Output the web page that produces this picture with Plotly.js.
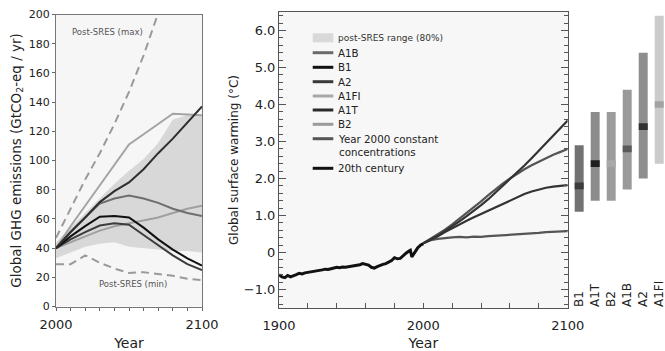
<!DOCTYPE html>
<html><head><meta charset="utf-8">
<script src="https://cdn.plot.ly/plotly-3.0.1.min.js"></script>
<style>html,body{margin:0;padding:0;background:#fff}#chart{width:665px;height:351px}</style>
</head><body><div id="chart"></div>
<script>
// ---------- Left panel: GHG emissions (GtCO2-eq / yr) ----------
const emisYears = [2000,2010,2020,2030,2040,2050,2060,2070,2080,2090,2100];
const emisA1B  = [40,51,61,70.5,74,76,74,71,67,64,62];
const emisA1T  = [40,46,51,55.5,57,56,49,42,35,29,25];
const emisA1FI = [40,55,69,83,97,111,118,125,132,131.5,131];
const emisA2   = [40,51,61,71.5,79,85,94,105,115,126,137];
const emisB1   = [40,48,55,61.5,62,61,54,46,39,33,28];
const emisB2   = [40,44,48,52,55,57,59,61,64,67,69];
const rangeLow  = [33,37,41,43,44,41,40,39,38,38,37];
const rangeHigh = [44,54,64,74,84,93,101,112,128,131,131];
const postMinYears = [2000,2010,2020,2030,2040,2050,2060,2070,2080,2090,2100];
const postMin      = [29,29,35,30,26,23,23.5,22.5,21,19,18];
const postMaxYears = [2000,2010,2020,2030,2040,2050,2060,2070];
const postMax      = [47,67,87,105,125,147,172,201];

// ---------- Middle panel: global surface warming (°C) ----------
const histYears = [1900,1902,1904,1906,1908,1910,1912,1914,1916,1918,1920,1922,1924,1926,1928,1930,1932,1934,1936,1938,1940,1942,1944,1946,1948,1950,1952,1954,1956,1958,1960,1962,1964,1966,1968,1970,1972,1974,1976,1978,1980,1982,1984,1986,1988,1990,1991,1992,1993,1994,1996,1998,2000];
const histTemp  = [-0.60,-0.66,-0.68,-0.62,-0.66,-0.64,-0.60,-0.56,-0.58,-0.55,-0.54,-0.52,-0.51,-0.49,-0.50,-0.47,-0.45,-0.46,-0.44,-0.41,-0.40,-0.41,-0.39,-0.40,-0.39,-0.38,-0.36,-0.36,-0.33,-0.30,-0.31,-0.34,-0.40,-0.42,-0.38,-0.34,-0.32,-0.30,-0.27,-0.22,-0.14,-0.17,-0.16,-0.08,-0.02,0.04,0.06,-0.12,-0.06,0.02,0.12,0.20,0.24];
const projYears = [2000,2005,2010,2015,2020,2025,2030,2035,2040,2045,2050,2055,2060,2065,2070,2075,2080,2085,2090,2095,2100];
const projA2    = [0.25,0.35,0.45,0.58,0.70,0.84,0.98,1.12,1.28,1.44,1.62,1.80,1.97,2.15,2.35,2.55,2.75,2.95,3.15,3.36,3.57];
const projA1B   = [0.25,0.37,0.49,0.62,0.76,0.91,1.06,1.22,1.38,1.55,1.71,1.86,2.00,2.13,2.25,2.36,2.46,2.55,2.64,2.72,2.80];
const projB1    = [0.25,0.34,0.44,0.55,0.66,0.76,0.86,0.95,1.04,1.14,1.24,1.33,1.41,1.50,1.58,1.65,1.71,1.75,1.78,1.80,1.82];
const projConst = [0.25,0.33,0.37,0.40,0.41,0.42,0.41,0.43,0.42,0.44,0.45,0.46,0.47,0.48,0.50,0.52,0.53,0.55,0.56,0.57,0.58];

// ---------- Right bars: likely ranges & best estimates ----------
const barLabels = ['B1','A1T','B2','A1B','A2','A1FI'];
const barLow    = [1.1,1.4,1.4,1.7,2.0,2.4];
const barHigh   = [2.9,3.8,3.8,4.4,5.4,6.4];
const barBest   = [1.8,2.4,2.4,2.8,3.4,4.0];
const barColors  = ['#727272','#8c8c8c','#9c9c9c','#9a9a9a','#8e8e8e','#cbcbcb'];
const bestColors = ['#3c3c3c','#1e1e1e','#a9a9a9','#5a5a5a','#333333','#a2a2a2'];

// ---------- Legend ----------
const legendNames  = ['A1B','B1','A2','A1FI','A1T','B2','Year 2000 constant<br>concentrations','20th century'];
const legendColors = ['#6a6a6a','#111111','#3a3a3a','#a8a8a8','#2a2a2a','#9a9a9a','#555555','#111111'];

const W = 665, H = 351;
const px = x => x / W, py = y => 1 - y / H;
const FONT = 'DejaVu Sans, sans-serif';

const traces = [
  // left panel
  {x: emisYears, y: rangeLow, xaxis:'x', yaxis:'y', mode:'lines', line:{width:0}, hoverinfo:'skip', showlegend:false},
  {x: emisYears, y: rangeHigh, xaxis:'x', yaxis:'y', mode:'lines', line:{width:0}, fill:'tonexty', fillcolor:'#d8d8d8', showlegend:false},
  {x: postMinYears, y: postMin, xaxis:'x', yaxis:'y', mode:'lines', line:{color:'#9a9a9a', width:2, dash:'8px,5px'}, showlegend:false},
  {x: postMaxYears, y: postMax, xaxis:'x', yaxis:'y', mode:'lines', line:{color:'#9a9a9a', width:2, dash:'8px,5px'}, showlegend:false},
  {x: emisYears, y: emisB2, xaxis:'x', yaxis:'y', mode:'lines', line:{color:'#a0a0a0', width:2}, showlegend:false},
  {x: emisYears, y: emisA1FI, xaxis:'x', yaxis:'y', mode:'lines', line:{color:'#a4a4a4', width:2}, showlegend:false},
  {x: emisYears, y: emisA1B, xaxis:'x', yaxis:'y', mode:'lines', line:{color:'#6e6e6e', width:2}, showlegend:false},
  {x: emisYears, y: emisA1T, xaxis:'x', yaxis:'y', mode:'lines', line:{color:'#3c3c3c', width:2}, showlegend:false},
  {x: emisYears, y: emisB1, xaxis:'x', yaxis:'y', mode:'lines', line:{color:'#111111', width:2}, showlegend:false},
  {x: emisYears, y: emisA2, xaxis:'x', yaxis:'y', mode:'lines', line:{color:'#2e2e2e', width:2}, showlegend:false},
  // middle panel
  {x: projYears, y: projConst, xaxis:'x2', yaxis:'y2', mode:'lines', line:{color:'#555555', width:2.2}, showlegend:false},
  {x: projYears, y: projB1, xaxis:'x2', yaxis:'y2', mode:'lines', line:{color:'#333333', width:2.2}, showlegend:false},
  {x: projYears, y: projA1B, xaxis:'x2', yaxis:'y2', mode:'lines', line:{color:'#555555', width:2.2}, showlegend:false},
  {x: projYears, y: projA2, xaxis:'x2', yaxis:'y2', mode:'lines', line:{color:'#333333', width:2.2}, showlegend:false},
  {x: histYears, y: histTemp, xaxis:'x2', yaxis:'y2', mode:'lines', line:{color:'#111111', width:3}, showlegend:false},
  // bars
  {type:'bar', x: barLabels, y: barHigh.map((h,i)=>h-barLow[i]), base: barLow, xaxis:'x3', yaxis:'y2',
   width:0.56, marker:{color:barColors, line:{width:0}}, showlegend:false},
  {type:'bar', x: barLabels, y: barBest.map(()=>0.18), base: barBest.map(b=>b-0.09), xaxis:'x3', yaxis:'y2',
   width:0.56, marker:{color:bestColors, line:{width:0}}, showlegend:false}
];

const shapes = [
  {type:'rect', xref:'x domain', yref:'y domain', x0:0, x1:1, y0:0, y1:1, fillcolor:'#f6f6f6', line:{width:0}, layer:'below'},
  {type:'rect', xref:'x2 domain', yref:'y2 domain', x0:0, x1:1, y0:0, y1:1, fillcolor:'#f7f7f7', line:{width:0}, layer:'below'},
  {type:'rect', xref:'paper', yref:'paper', x0:px(312.7), x1:px(333.3), y0:py(42.3), y1:py(33.3), fillcolor:'#d9d9d9', line:{width:0}}
];
const annotations = [
  {xref:'paper', yref:'paper', x:px(335.5), y:py(38), xanchor:'left', yanchor:'middle', showarrow:false,
   text:'post-SRES range (80%)', font:{family:FONT, size:9, color:'#333'}},
  {xref:'x', yref:'y', x:2035.3, y:188, showarrow:false, text:'Post-SRES (max)', font:{family:FONT, size:8.5, color:'#555'}},
  {xref:'x', yref:'y', x:2052.7, y:15.2, showarrow:false, text:'Post-SRES (min)', font:{family:FONT, size:8.5, color:'#555'}}
];
const rowY = [52.7, 67.3, 81.7, 96, 110, 124.3, 138.7, 168.3];
legendNames.forEach((name, i) => {
  shapes.push({type:'line', xref:'paper', yref:'paper', x0:px(312.7), x1:px(333.3), y0:py(rowY[i]), y1:py(rowY[i]),
    line:{color:legendColors[i], width:3}});
  const multi = name.indexOf('<br>') >= 0;
  annotations.push({xref:'paper', yref:'paper', x:px(335.5), y:py(multi ? rowY[i] + 7 : rowY[i]),
    xanchor:'left', yanchor:'middle', align:'left', showarrow:false, text:name,
    font:{family:FONT, size:10.3, color:'#222'}});
});

const layout = {
  width: W, height: H,
  margin: {l:0, r:0, t:0, b:0},
  paper_bgcolor: '#ffffff', plot_bgcolor: 'rgba(0,0,0,0)',
  font: {family: FONT, color: '#222'},
  showlegend: false,
  barmode: 'overlay',
  xaxis: {domain:[px(56), px(202)], range:[2000,2100], anchor:'y', tickvals:[2000,2100],
    ticks:'outside', ticklen:3, tickcolor:'#666', minor:{tick0:2000, dtick:10, ticks:'outside', ticklen:3, tickcolor:'#666'},
    showline:true, linecolor:'#777', linewidth:1, mirror:true, showgrid:false, zeroline:false,
    tickfont:{size:13, color:'#222'}, ticklabelstandoff:3,
    title:{text:'Year', font:{size:14, color:'#222'}, standoff:8}},
  yaxis: {domain:[py(306.5), py(14.5)], range:[0,200], anchor:'x', dtick:20, tick0:0,
    ticks:'outside', ticklen:3, tickcolor:'#666',
    showline:true, linecolor:'#777', linewidth:1, mirror:true, showgrid:false, zeroline:false,
    tickfont:{size:11, color:'#222'},
    title:{text:'Global GHG emissions (GtCO<sub>2</sub>-eq / yr)', font:{size:13.5, color:'#222'}, standoff:4}},
  xaxis2: {domain:[px(279), px(567.7)], range:[1900,2100], anchor:'y2', tickvals:[1900,2000,2100],
    ticks:'inside', ticklen:5, tickcolor:'#555', minor:{tick0:1900, dtick:20, ticks:'inside', ticklen:5, tickcolor:'#555'},
    showline:true, linecolor:'#555', linewidth:1, mirror:true, showgrid:false, zeroline:false,
    tickfont:{size:13, color:'#222'}, ticklabelstandoff:5,
    title:{text:'Year', font:{size:14, color:'#222'}, standoff:8}},
  yaxis2: {domain:[py(308), py(12)], range:[-1.5,6.5], anchor:'x2',
    tickvals:[-1,0,1,2,3,4,5,6], ticktext:['\u22121.0','0','1.0','2.0','3.0','4.0','5.0','6.0'],
    ticks:'inside', ticklen:7, tickcolor:'#555', minor:{tick0:0, dtick:0.2, ticks:'inside', ticklen:4, tickcolor:'#555'},
    showline:true, linecolor:'#555', linewidth:1, mirror:'ticks', showgrid:false, zeroline:false,
    tickfont:{size:13, color:'#222'},
    title:{text:'Global surface warming (\u00B0C)', font:{size:12, color:'#222'}, standoff:2}},
  xaxis3: {domain:[px(568.6), 1], range:[-0.66,5.36], type:'category', anchor:'free', position:py(307),
    side:'top', tickangle:-90, ticks:'', showline:false, showgrid:false, zeroline:false,
    tickfont:{size:12, color:'#222'}},
  shapes: shapes,
  annotations: annotations
};

Plotly.newPlot('chart', traces, layout, {displayModeBar:false, staticPlot:true});
</script>
</body></html>
